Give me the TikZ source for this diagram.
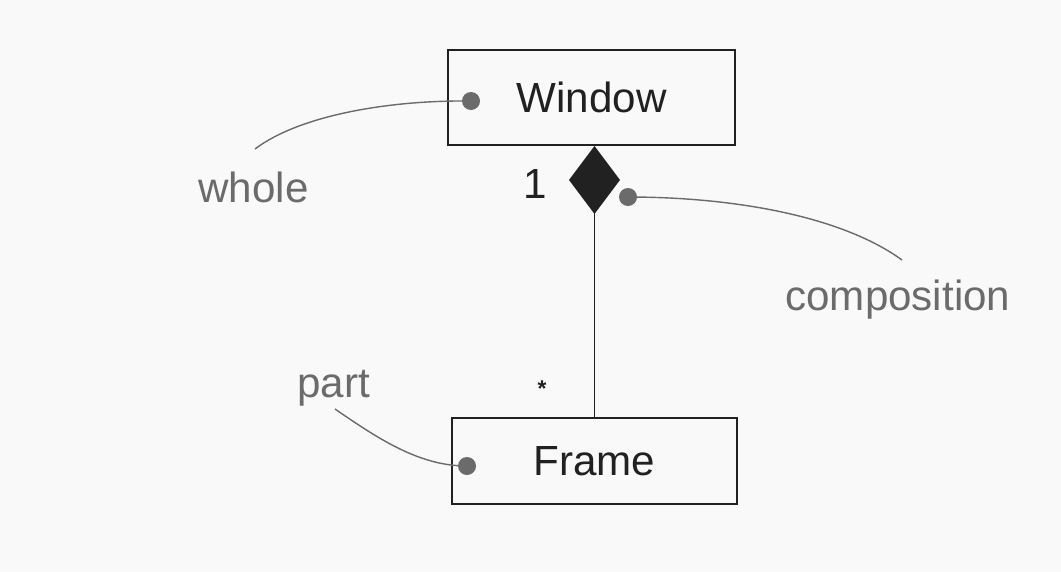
\documentclass[tikz,border=0pt]{standalone}
\usepackage{fontspec}
\setmainfont{Liberation Sans}
\usetikzlibrary{arrows.meta,positioning}
\definecolor{notegray}{gray}{0.42}
\definecolor{inkgray}{gray}{0.13}
\definecolor{paper}{gray}{0.975}

\begin{document}
\begin{tikzpicture}[x=0.02cm,y=-0.02cm,
  classbox/.style={draw=inkgray,text=inkgray,line width=1.1pt,inner sep=0pt,font=\fontsize{24}{28}\selectfont},
  note/.style={text=notegray,inner sep=0pt,anchor=base west,font=\fontsize{24}{28}\selectfont},
  leader/.style={notegray,line width=0.8pt},
  pin/.style={circle,fill=notegray,inner sep=0pt,minimum size=0.36cm}]
  \fill[paper] (0,0) rectangle (1061,572);
  \useasboundingbox (0,0) rectangle (1061,572);

  \node[classbox,minimum width=5.74cm,minimum height=1.9cm] (window) at (591.5,97.5) {Window};
  \node[classbox,minimum width=5.7cm,minimum height=1.72cm] (frame) at (594.5,461) {Frame};

  \draw[inkgray,line width=1.1pt,-{Diamond[length=1.36cm,width=1.02cm]}] (frame.north) -- (frame.north |- window.south);

  \node[inner sep=0pt,anchor=base,text=inkgray,font=\fontsize{24}{28}\selectfont] (one) at (535,198) {1};
  \node[inner sep=0pt,text=inkgray,font=\fontsize{13}{15}\selectfont\bfseries] (many) at (542,389) {*};

  \node[pin] (wholepin) at (471,101) {};
  \node[pin] (partpin) at (467,466) {};
  \node[pin] (comppin) at (628,197) {};

  \node[note] (whole) at (198,202) {whole};
  \node[note] (part) at (297,397) {part};
  \node[note] (comp) at (785,310) {composition};

  \coordinate (wholeend) at (255,149);
  \coordinate (partend) at (335,409);
  \coordinate (compend) at (902,260);

\draw[leader] (wholepin.center) .. controls (390,100) and (300,115) .. (wholeend);
\draw[leader] (partend) .. controls (380,440) and (420,466) .. (partpin.center);
\draw[leader] (comppin.center) .. controls (730,197) and (840,215) .. (compend);
\end{tikzpicture}
\end{document}
